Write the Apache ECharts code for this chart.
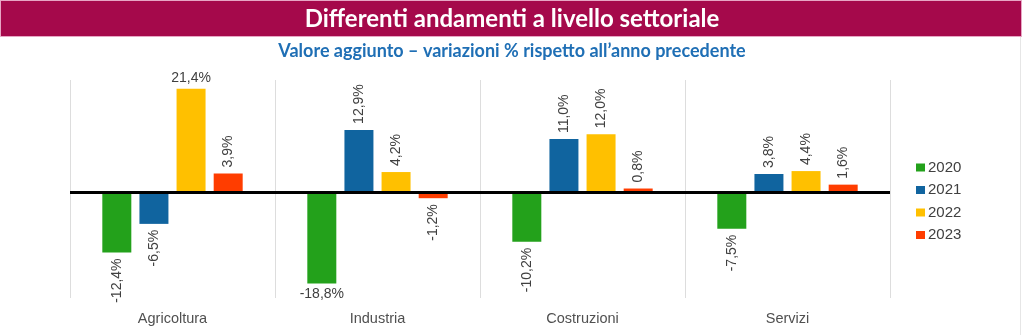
<!DOCTYPE html>
<html>
<head>
<meta charset="utf-8">
<script src="https://cdn.jsdelivr.net/npm/echarts@6/dist/echarts.min.js"></script>
<style>
  html, body { margin: 0; padding: 0; background: #ffffff; }
  #chart { width: 1024px; height: 335px; }
</style>
</head>
<body>
<div id="chart"></div>
<script>
// Sectors and yearly % change of value added
const sectors = ['Agricoltura', 'Industria', 'Costruzioni', 'Servizi'];
const years = ['2020', '2021', '2022', '2023'];
const v2020 = [-12.4, -18.8, -10.2, -7.5];
const v2021 = [-6.5, 12.9, 11.0, 3.8];
const v2022 = [21.4, 4.2, 12.0, 4.4];
const v2023 = [3.9, -1.2, 0.8, 1.6];
const yearColors = ['#23A11B', '#10649F', '#FFC000', '#FF3D00'];

const titleText = 'Differenti andamenti a livello settoriale';
const subtitleText = 'Valore aggiunto \u2013 variazioni % rispetto all\u2019anno precedente';

const fmt = v => v.toFixed(1).replace('.', ',') + '%';

// Labels are drawn vertically beside the bar end; the tallest bars get horizontal labels
function pointLabel(v) {
  const big = Math.abs(v) > 15;
  if (big) {
    return { position: v >= 0 ? 'top' : 'bottom', rotate: 0, distance: 4 };
  }
  return v >= 0
    ? { position: 'top', rotate: 90, align: 'left', verticalAlign: 'middle', distance: 6 }
    : { position: 'bottom', rotate: 90, align: 'right', verticalAlign: 'middle', distance: 6 };
}

const allValues = [v2020, v2021, v2022, v2023];
const series = allValues.map((vals, i) => ({
  name: years[i],
  type: 'bar',
  barWidth: 29,
  barGap: '28%',
  itemStyle: { color: yearColors[i] },
  label: {
    show: true,
    color: '#404040',
    fontFamily: 'Liberation Sans, Arial, sans-serif',
    fontSize: 14,
    formatter: p => fmt(p.value)
  },
  data: vals.map(v => ({ value: v, label: pointLabel(v) })),
  markLine: i === 0 ? {
    silent: true,
    symbol: 'none',
    label: { show: false },
    lineStyle: { color: '#000000', width: 3, type: 'solid' },
    data: [{ yAxis: 0 }]
  } : undefined
}));

const chart = echarts.init(document.getElementById('chart'), null, { renderer: 'canvas' });
chart.setOption({
  backgroundColor: '#ffffff',
  animation: false,
  graphic: [
    {
      type: 'rect',
      shape: { x: 0.5, y: 0.5, width: 1021, height: 36 },
      style: { fill: '#A5094B', stroke: '#E7A6C4', lineWidth: 1 },
      z: 0
    },
    {
      type: 'line',
      shape: { x1: 1020.5, y1: 37, x2: 1020.5, y2: 335 },
      style: { stroke: '#E6E6E6', lineWidth: 1 }
    },
    {
      type: 'text',
      left: 'center',
      top: 7,
      style: {
        text: titleText,
        fill: '#ffffff',
        font: 'bold 24px Lato, "Open Sans", sans-serif'
      },
      z: 2
    },
    {
      type: 'text',
      left: 'center',
      top: 42,
      style: {
        text: subtitleText,
        fill: '#1F6FB5',
        font: 'bold 18px Lato, "Open Sans", sans-serif'
      },
      z: 2
    }
  ],
  legend: {
    orient: 'vertical',
    left: 911,
    top: 155,
    icon: 'rect',
    itemWidth: 9,
    itemHeight: 8,
    itemGap: 7.5,
    textStyle: { color: '#404040', fontSize: 15, padding: [0, 0, 0, -2], fontFamily: 'Liberation Sans, Arial, sans-serif' },
    data: years
  },
  grid: { left: 70, right: 134, top: 80, bottom: 37, containLabel: false },
  xAxis: {
    type: 'category',
    data: sectors,
    axisLine: { show: false },
    axisTick: { show: false },
    splitLine: { show: true, lineStyle: { color: '#DDDDDD', width: 1 } },
    axisLabel: {
      color: '#505050',
      fontSize: 14.5,
      margin: 13,
      fontFamily: 'Liberation Sans, Arial, sans-serif'
    }
  },
  yAxis: {
    type: 'value',
    min: -21.8,
    max: 23.2,
    show: false,
    splitLine: { show: false }
  },
  series: series
});
</script>
</body>
</html>
